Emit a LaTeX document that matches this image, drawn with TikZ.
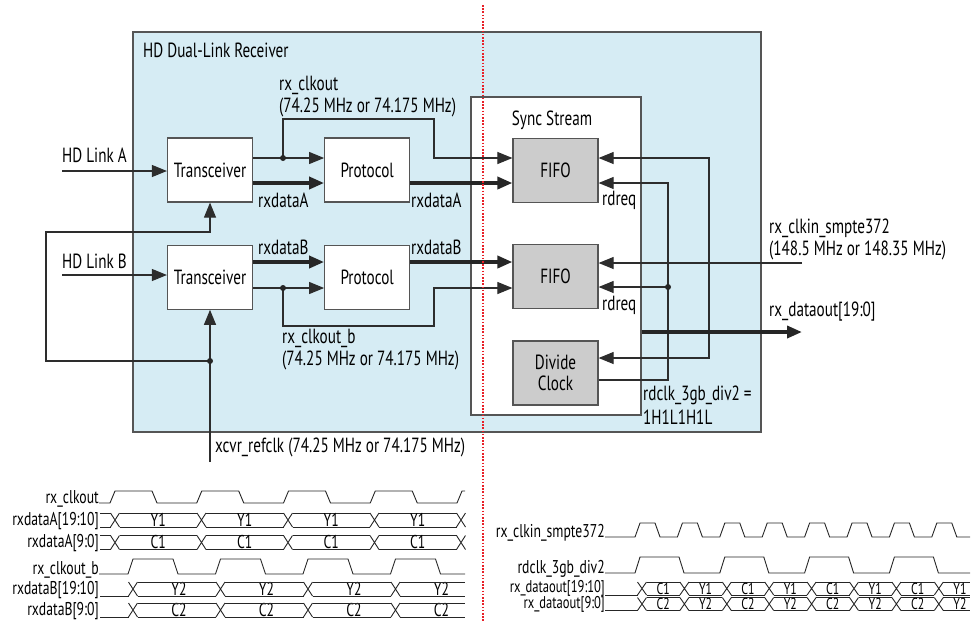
\documentclass[tikz,border=0pt]{standalone}
\usepackage{fontspec}
\setmainfont[FakeStretch=0.74]{PT Sans}
\usetikzlibrary{positioning, arrows.meta}

\definecolor{rcvrblue}{RGB}{214,236,244}
\definecolor{fifogray}{RGB}{204,204,204}
\definecolor{framegray}{RGB}{85,85,85}
\definecolor{wiregray}{RGB}{45,45,45}
\definecolor{cutred}{RGB}{232,32,40}

\begin{document}
\begin{tikzpicture}[
    x=1pt, y=-1pt,
    every node/.style={font=\fontsize{20.5}{21}\selectfont, inner sep=0pt},
    block/.style={draw=framegray, line width=1.2pt, fill=white, minimum width=85pt, minimum height=64pt},
    fifoblock/.style={block, fill=fifogray},
    wire/.style={draw=wiregray, line width=1.1pt},
    buswire/.style={draw=black!85, line width=3.6pt},
    arrow/.style={-{Triangle[length=15pt, width=12pt]}},
    dblarrow/.style={{Triangle[length=15pt, width=12pt]}-{Triangle[length=15pt, width=12pt]}},
    junction/.style={circle, fill=black!85, minimum size=6pt},
    lbl/.style={anchor=west},
    wave/.style={draw=black!85, line width=0.9pt},
    wlbl/.style={anchor=base east, font=\fontsize{18.5}{19}\selectfont},
    wtxt/.style={font=\fontsize{18.5}{19}\selectfont},
    otxt/.style={font=\fontsize{16}{17}\selectfont}
    ]
    \useasboundingbox (0,0) rectangle (971,622);

    % receiver frame
    \node[draw=framegray, line width=1.3pt, fill=rcvrblue, minimum width=628pt, minimum height=400pt] (rcvr) at (447,232) {};
    \node[lbl] (rcvrtitle) at (143,50) {HD Dual-Link Receiver};
    \node[draw=framegray, line width=1.2pt, fill=white, minimum width=170pt, minimum height=318pt] (sync) at (556,256) {};
    \node (synctitle) at (552,120) {Sync Stream};

    % blocks
    \node[block] (xcvrA) at (210,170) {Transceiver};
    \node[block, right=71pt of xcvrA] (protA) {Protocol};
    \node[block, below=42pt of xcvrA] (xcvrB) {Transceiver};
    \node[block, below=42pt of protA] (protB) {Protocol};
    \node[fifoblock] (fifoA) at (555.5,170.5) {FIFO};
    \node[fifoblock, below=41pt of fifoA] (fifoB) {FIFO};
    \node[fifoblock, below=31pt of fifoB, align=center] (divclk) {Divide\\Clock};

    % wire points
    \coordinate (linkA) at (62,171);
    \coordinate (linkB) at (62,275);
    \coordinate (clkAsplit) at (283,158);
    \coordinate (clkAbend) at (434,119);
    \coordinate (datA) at (300,183);
    \coordinate (datB) at (300,262);
    \coordinate (clkBsplit) at (283,288);
    \coordinate (clkBbend) at (434,326);
    \coordinate (refclk) at (210,462);
    \coordinate (refsplit) at (210,361);
    \coordinate (loopcorner) at (46,232);
    \coordinate (loopA) at (210,232);
    \coordinate (clkin) at (802,263);
    \coordinate (rdA) at (668,183);
    \coordinate (rdsplit) at (668,287);
    \coordinate (wrtop) at (709,158);
    \coordinate (divin) at (709,358);
    \coordinate (divout) at (668,380);
    \coordinate (dataout) at (802,332);

    % link A
    \draw[wire, arrow] (linkA) -- (linkA -| xcvrA.west);
    \draw[wire, arrow] (clkAsplit -| xcvrA.east) -- (clkAsplit -| protA.west);
    \draw[wire, arrow] (clkAsplit) |- (clkAbend) |- (clkAsplit -| fifoA.west);
    \node[junction] (dotA) at (clkAsplit) {};
    \draw[buswire, arrow] (datA -| xcvrA.east) -- (datA -| protA.west);
    \draw[buswire, arrow] (datA -| protA.east) -- (datA -| fifoA.west);

    % link B
    \draw[wire, arrow] (linkB) -- (linkB -| xcvrB.west);
    \draw[buswire, arrow] (datB -| xcvrB.east) -- (datB -| protB.west);
    \draw[buswire, arrow] (datB -| protB.east) -- (datB -| fifoB.west);
    \draw[wire, arrow] (clkBsplit -| xcvrB.east) -- (clkBsplit -| protB.west);
    \draw[wire, arrow] (clkBsplit) |- (clkBbend) |- (clkBsplit -| fifoB.west);
    \node[junction] (dotB) at (clkBsplit) {};

    % reference clock
    \draw[wire, arrow] (refclk) -- (xcvrB.south);
    \draw[wire, arrow] (refsplit) -| (loopcorner) -- (loopA) -- (xcvrA.south);
    \node[junction] (dotref) at (refsplit) {};

    % read side
    \draw[wire, arrow] (clkin) -- (clkin -| fifoB.east);
    \draw[wire, dblarrow] (wrtop -| fifoA.east) -- (wrtop) -- (divin) -- (divin -| divclk.east);
    \draw[wire, arrow] (divout -| divclk.east) -- (divout) -- (rdA) -- (rdA -| fifoA.east);
    \draw[wire, arrow] (rdsplit) -- (rdsplit -| fifoB.east);
    \node[junction] (dotrd) at (rdsplit) {};
    \draw[buswire, arrow] (dataout -| sync.east) -- (dataout);

    % labels
    \node[lbl] (linkAlbl) at (62,155) {HD Link A};
    \node[lbl] (linkBlbl) at (62,261) {HD Link B};
    \node[lbl] (clkAlbl) at (279,85) {rx\_clkout};
    \node[lbl] (clkAfreq) at (279,107) {(74.25 MHz or 74.175 MHz)};
    \node[lbl] (datAlbl1) at (258,200) {rxdataA};
    \node[lbl] (datAlbl2) at (411,200) {rxdataA};
    \node[lbl] (datBlbl1) at (258,247) {rxdataB};
    \node[lbl] (datBlbl2) at (411,247) {rxdataB};
    \node[lbl] (clkBlbl) at (282,338) {rx\_clkout\_b};
    \node[lbl] (clkBfreq) at (282,360) {(74.25 MHz or 74.175 MHz)};
    \node[lbl] (rdreqA) at (602,200) {rdreq};
    \node[lbl] (rdreqB) at (602,305) {rdreq};
    \node[lbl] (rdclklbl) at (643,395) {rdclk\_3gb\_div2 =};
    \node[lbl] (rdclkpat) at (643,417) {1H1L1H1L};
    \node[lbl] (clkinlbl) at (769,228) {rx\_clkin\_smpte372};
    \node[lbl] (clkinfreq) at (769,250) {(148.5 MHz or 148.35 MHz)};
    \node[lbl] (dataoutlbl) at (769,312) {rx\_dataout[19:0]};
    \node[lbl] (refclklbl) at (215,447) {xcvr\_refclk (74.25 MHz or 74.175 MHz)};

    % timing, link side
    \node[wlbl] (wclkA) at (99,503) {rx\_clkout};
    \draw[wave] (wclkA.base east) \foreach \r in {110,196.75,283.5,370.25} { -- (\r,503) -- (\r+5,491) -- (\r+42,491) -- (\r+47,503) } -- (457,503) -- (462,491) -- (465,491);
    \foreach \yc/\val/\name [count=\i] in {520/Y1/{rxdataA[19:10]}, 542.5/C1/{rxdataA[9:0]}} {
      \node[wlbl] (wrowA\i) at (99,\yc+5) {\name};
      \draw[wave] (100,\yc-7) -- (110.5,\yc-7) (100,\yc+7) -- (110.5,\yc+7);
      \foreach \c in {115,201.5,288,374.5,461}
        \draw[wave] (\c-4.5,\yc-7) -- (\c+4.5,\yc+7) (\c-4.5,\yc+7) -- (\c+4.5,\yc-7);
      \foreach \c [count=\k] in {115,201.5,288,374.5} {
        \draw[wave] (\c+4.5,\yc-7) -- (\c+82,\yc-7) (\c+4.5,\yc+7) -- (\c+82,\yc+7);
        \node[wtxt] (valA\i-\k) at (\c+43.25,\yc) {\val};
      }
    }
    \node[wlbl] (wclkB) at (99,574) {rx\_clkout\_b};
    \draw[wave] (wclkB.base east) \foreach \r in {128,215.5,303,390.5} { -- (\r,574) -- (\r+5,559) -- (\r+45,559) -- (\r+50,574) } -- (465,574);
    \foreach \yc/\val/\name [count=\i] in {589/Y2/{rxdataB[19:10]}, 610/C2/{rxdataB[9:0]}} {
      \node[wlbl] (wrowB\i) at (99,\yc+5) {\name};
      \draw[wave] (100,\yc+7) -- (128.5,\yc+7);
      \foreach \c [count=\k] in {133,220.5,308,395.5} {
        \draw[wave] (\c-4.5,\yc-7) -- (\c+4.5,\yc+7) (\c-4.5,\yc+7) -- (\c+4.5,\yc-7);
        \node[wtxt] (valB\i-\k) at (\c+46,\yc) {\val};
      }
      \foreach \c in {133,220.5,308}
        \draw[wave] (\c+4.5,\yc-7) -- (\c+83,\yc-7) (\c+4.5,\yc+7) -- (\c+83,\yc+7);
      \draw[wave] (400,\yc-7) -- (465,\yc-7) (400,\yc+7) -- (465,\yc+7);
    }

    % timing, output side
    \node[wlbl] (wclkin) at (605,537) {rx\_clkin\_smpte372};
    \draw[wave] (wclkin.base east) \foreach \k in {0,...,7} { -- (635+42.4*\k,537) -- (640+42.4*\k,523) -- (655+42.4*\k,523) -- (660+42.4*\k,537) } -- (970,537);
    \node[wlbl] (wrdclk) at (605,573) {rdclk\_3gb\_div2};
    \draw[wave] (wrdclk.base east) \foreach \k in {0,...,3} { -- (635+84.8*\k,573) -- (640+84.8*\k,557) -- (679+84.8*\k,557) -- (684+84.8*\k,573) } -- (970,573);
    \foreach \yc/\va/\vb/\name [count=\i] in {588.5/C1/Y1/{rx\_dataout[19:10]}, 604/C2/Y2/{rx\_dataout[9:0]}} {
      \node[wlbl, font=\fontsize{17}{18}\selectfont] (wout\i) at (605,\yc+4) {\name};
      \draw[wave] (605,\yc+6.5) -- (637.5,\yc+6.5);
      \foreach \k in {0,...,7} {
        \draw[wave] (637.5+42.4*\k,\yc-6.5) -- (646.5+42.4*\k,\yc+6.5) (637.5+42.4*\k,\yc+6.5) -- (646.5+42.4*\k,\yc-6.5);
        \draw[wave] (646.5+42.4*\k,\yc-6.5) -- ({min(679.9+42.4*\k,970)},\yc-6.5) (646.5+42.4*\k,\yc+6.5) -- ({min(679.9+42.4*\k,970)},\yc+6.5);
        \ifodd\k
          \node[otxt] (vout\i-\k) at (663.2+42.4*\k,\yc) {\vb};
        \else
          \node[otxt] (vout\i-\k) at (663.2+42.4*\k,\yc) {\va};
        \fi
      }
    }

    % cut line
    \draw[cutred, line width=1.6pt, dash pattern=on 1.6pt off 1.6pt] (483,5) -- (483,622);
\end{tikzpicture}
\end{document}
